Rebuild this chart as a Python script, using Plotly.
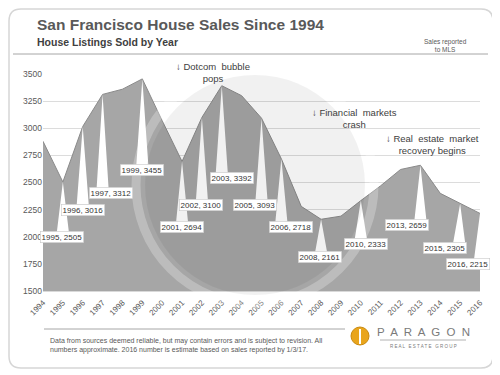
import plotly.graph_objects as go

# ---------------- data ----------------
years = list(range(1994, 2017))
sales = [2880, 2505, 3016, 3312, 3360, 3455, 3070, 2694, 3100, 3392, 3300,
         3093, 2718, 2280, 2161, 2190, 2333, 2470, 2620, 2659, 2400, 2305, 2215]

label_years = [1995, 1996, 1997, 1999, 2001, 2002, 2003, 2005, 2006, 2008, 2010, 2013, 2015, 2016]
# label centre offsets from the point, in pixels (dx right, dy down)
label_dx = [-1, 0, 8, 0, 0, -1, 10, -7, 10, -1, 5, -13, -15, -12]
label_dy = [55, 83, 99, 91, 66, 88, 92, 87, 68, 38, 43, 60, 44, 51]

event_text = ["↓ Dotcom  bubble<br>pops", "↓ Financial  markets<br>crash",
              "↓ Real  estate  market<br>recovery begins"]
event_px = [213, 354, 432]   # centre x in page pixels
event_py = [73, 118, 144]    # centre y in page pixels

y_ticks = list(range(1500, 3501, 250))

# ---------------- geometry ----------------
OFF = 8                      # default page body margin
W, H = 500 - OFF, 375 - OFF
# plot area in page pixels: left 43, right 480, top 74, bottom 291
ML, MT = 43 - OFF, 74 - OFF
MR, MB = W - (480 - OFF), H - (291 - OFF)
PW, PH = W - ML - MR, H - MT - MB
XMIN, XMAX = 1994, 2016
YMIN, YMAX = 1500, 3500
ppx = PW / (XMAX - XMIN)
ppy = PH / (YMAX - YMIN)

FONT = "Liberation Sans, Arial"


def px(x):
    return (x - OFF - ML) / PW


def py(y):
    return (H - MB - (y - OFF)) / PH


fig = go.Figure()

# area
fig.add_trace(go.Scatter(
    x=years, y=sales, mode="lines", fill="tozeroy",
    fillcolor="#a6a6a6", line=dict(color="#8a8a8a", width=1),
    hoverinfo="skip", showlegend=False))

# callout wedges
val = dict(zip(years, sales))
wx, wy = [], []
BOX_W, BOX_H, HALF = 40, 10, 6
for yr, dx, dy in zip(label_years, label_dx, label_dy):
    v = val[yr]
    base_off = min(max(0, dx - BOX_W / 2 + HALF), dx + BOX_W / 2 - HALF)
    by = v - (dy - BOX_H / 2) / ppy
    bx = yr + base_off / ppx
    wx += [yr, bx - HALF / ppx, bx + HALF / ppx, yr, None]
    wy += [v, by, by, v, None]
fig.add_trace(go.Scatter(
    x=wx, y=wy, mode="lines", fill="toself", fillcolor="white",
    line=dict(width=0, color="white"), hoverinfo="skip", showlegend=False))

annotations = []
for yr, dx, dy in zip(label_years, label_dx, label_dy):
    v = val[yr]
    annotations.append(dict(
        x=yr + dx / ppx, y=v - dy / ppy, xref="x", yref="y",
        text=f"{yr}, {v}", showarrow=False,
        font=dict(family=FONT, size=8, color="#333333"),
        bgcolor="white", bordercolor="#c8c8c8", borderwidth=0.6, borderpad=1))

for t, x, y in zip(event_text, event_px, event_py):
    annotations.append(dict(
        x=px(x), y=py(y), xref="paper", yref="paper", text=t, showarrow=False,
        align="center", xanchor="center", yanchor="middle",
        font=dict(family=FONT, size=9.5, color="#404040")))

# titles and notes
annotations += [
    dict(x=px(35), y=py(24), xref="paper", yref="paper", xanchor="left", yanchor="middle",
         text="<b>San Francisco House Sales Since 1994</b>", showarrow=False,
         font=dict(family=FONT, size=15.5, color="#595959")),
    dict(x=px(35), y=py(42), xref="paper", yref="paper", xanchor="left", yanchor="middle",
         text="<b>House Listings Sold by Year</b>", showarrow=False,
         font=dict(family=FONT, size=10.5, color="#404040")),
    dict(x=px(445), y=py(45), xref="paper", yref="paper", xanchor="center", yanchor="middle",
         text="Sales reported<br>to MLS", showarrow=False,
         font=dict(family=FONT, size=6.5, color="#595959")),
    dict(x=px(48), y=py(345), xref="paper", yref="paper", xanchor="left", yanchor="middle",
         align="left",
         text="Data from sources deemed reliable, but may contain errors and is subject to revision. All<br>"
              "numbers approximate. 2016 number is estimate based on sales reported by 1/3/17.",
         showarrow=False,
         font=dict(family=FONT, size=7, color="#595959")),
    dict(x=px(423), y=py(332), xref="paper", yref="paper", xanchor="center", yanchor="middle",
         text="P  A  R  A  G  O  N", showarrow=False,
         font=dict(family=FONT, size=11.5, color="#7a7a7a")),
    dict(x=px(423), y=py(346), xref="paper", yref="paper", xanchor="center", yanchor="middle",
         text="R E A L   E S T A T E   G R O U P", showarrow=False,
         font=dict(family=FONT, size=4.5, color="#7a7a7a")),
]


def rounded_rect(x0, y0, x1, y1, r):
    X0, X1 = px(x0), px(x1)
    Y0, Y1 = py(y0), py(y1)
    rx, ry = r / PW, r / PH
    return (f"M {X0+rx},{Y0} L {X1-rx},{Y0} Q {X1},{Y0} {X1},{Y0-ry} "
            f"L {X1},{Y1+ry} Q {X1},{Y1} {X1-rx},{Y1} L {X0+rx},{Y1} "
            f"Q {X0},{Y1} {X0},{Y1+ry} L {X0},{Y0-ry} Q {X0},{Y0} {X0+rx},{Y0} Z")


cx, cy = 255, 185
shapes = [
    dict(type="path", xref="paper", yref="paper", path=rounded_rect(9, 9, 493, 368, 12),
         line=dict(color="#d6d6d6", width=1.5), layer="below"),
    dict(type="line", xref="paper", yref="paper", x0=px(13), x1=px(488), y0=py(54), y1=py(54),
         line=dict(color="#a6a6a6", width=1)),
    dict(type="line", xref="paper", yref="paper", x0=px(44), x1=px(345), y0=py(329), y1=py(329),
         line=dict(color="#a6a6a6", width=1)),
    # watermark
    dict(type="circle", xref="paper", yref="paper",
         x0=px(cx - 110), x1=px(cx + 110), y0=py(cy + 110), y1=py(cy - 110),
         fillcolor="rgba(0,0,0,0.055)", line=dict(width=0), layer="above"),
    dict(type="circle", xref="paper", yref="paper",
         x0=px(cx - 119), x1=px(cx + 119), y0=py(cy + 119), y1=py(cy - 119),
         line=dict(color="rgba(255,255,255,0.25)", width=9), layer="above"),
    # logo
    dict(type="circle", xref="paper", yref="paper",
         x0=px(351), x1=px(369), y0=py(345), y1=py(327),
         fillcolor="#e9a51c", line=dict(color="#c98a10", width=1)),
    dict(type="line", xref="paper", yref="paper", x0=px(360), x1=px(360), y0=py(329), y1=py(344),
         line=dict(color="white", width=2)),
    dict(type="line", xref="paper", yref="paper", x0=px(380), x1=px(466), y0=py(340), y1=py(340),
         line=dict(color="#a0a0a0", width=0.8)),
]

fig.update_layout(
    width=W, height=H,
    margin=dict(l=ML, r=MR, t=MT, b=MB, autoexpand=False),
    paper_bgcolor="white", plot_bgcolor="white",
    showlegend=False,
    annotations=annotations, shapes=shapes,
    xaxis=dict(range=[XMIN, XMAX], tickmode="array", tickvals=years,
               ticktext=[str(y) for y in years], tickangle=-45, automargin=False,
               tickfont=dict(family=FONT, size=8, color="#595959"),
               ticklabelstandoff=3,
               showgrid=False, zeroline=False, showline=True, linecolor="#d9d9d9",
               ticks=""),
    yaxis=dict(range=[YMIN, YMAX], tickmode="array", tickvals=y_ticks, automargin=False,
               tickfont=dict(family=FONT, size=8.5, color="#595959"),
               showgrid=True, gridcolor="#dcdcdc", gridwidth=1, zeroline=False,
               ticks="", ticklen=0, ticksuffix="  "),
)

fig.write_html("out.html")
